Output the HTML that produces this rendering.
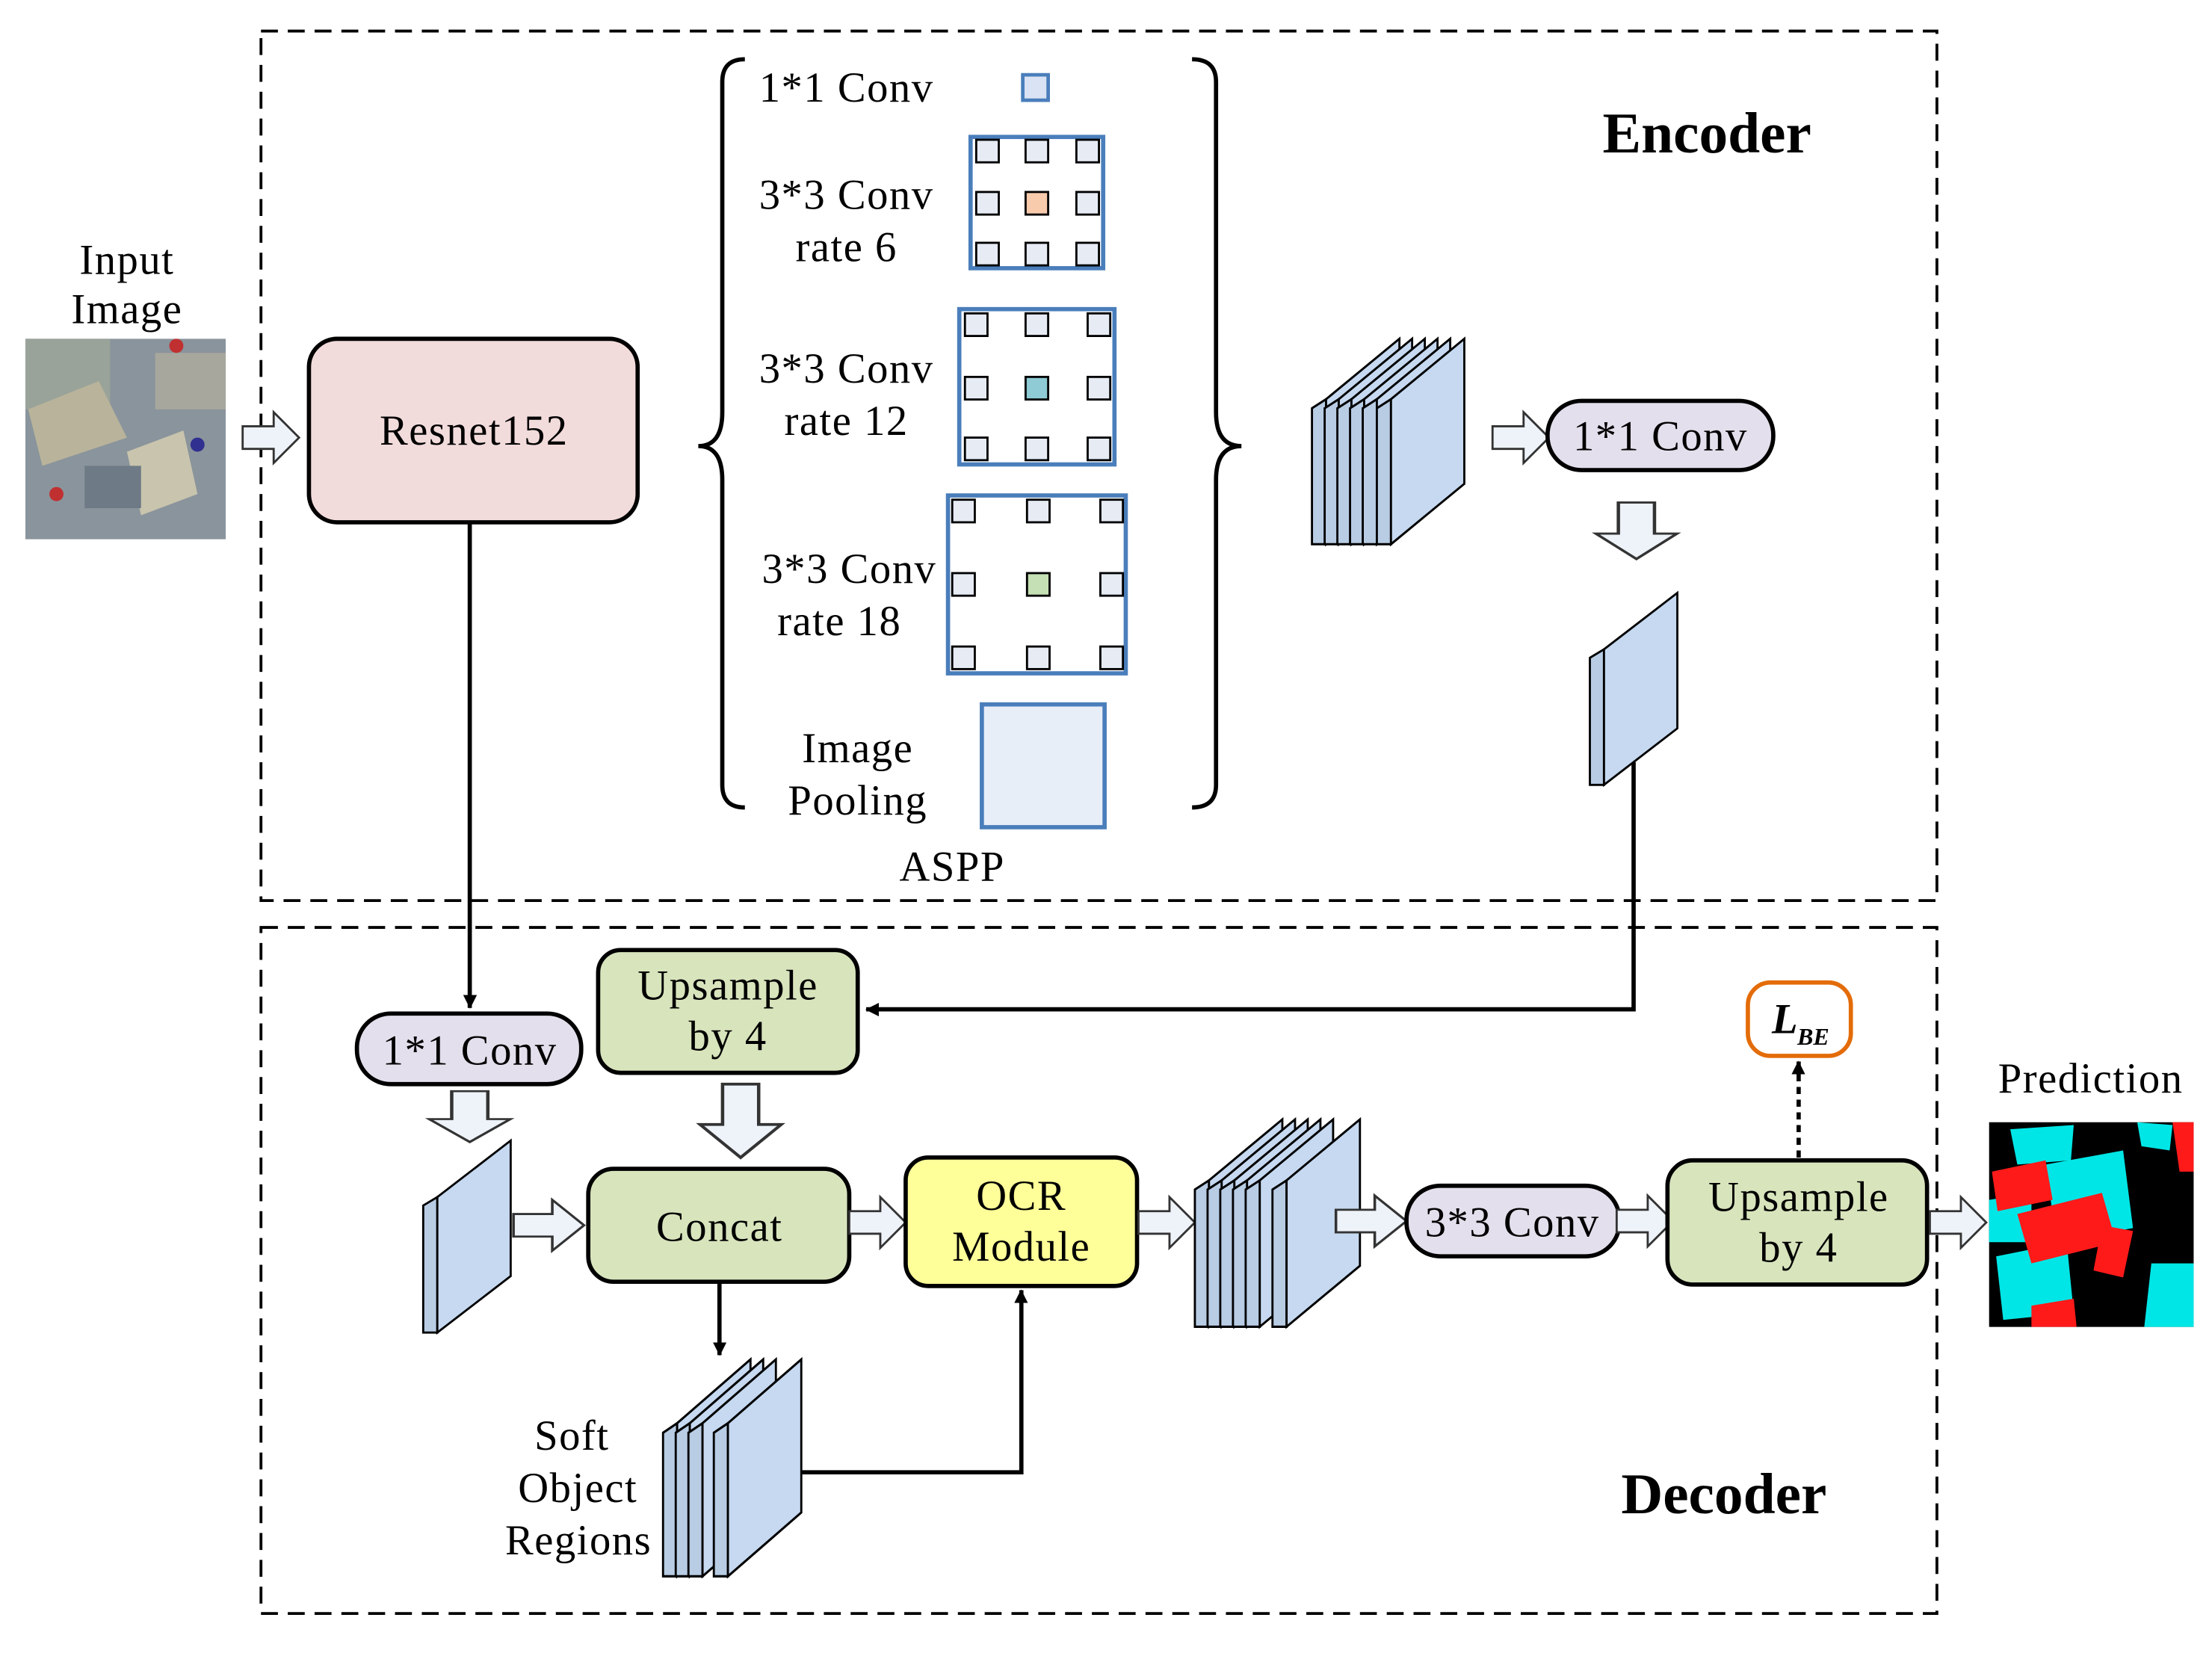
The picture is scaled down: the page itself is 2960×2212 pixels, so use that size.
<!DOCTYPE html>
<html><head><meta charset="utf-8"><style>
html,body{margin:0;padding:0;background:#fff}
svg{display:block}
text{font-family:"Liberation Serif",serif;fill:#000}
.t{font-size:30px;letter-spacing:0.8px}
</style></head><body>
<svg width="2960" height="2212" viewBox="0 0 1568 1171" preserveAspectRatio="none" xmlns="http://www.w3.org/2000/svg">
<defs>
<marker id="ah" markerWidth="10" markerHeight="10" refX="9" refY="5" orient="auto" markerUnits="userSpaceOnUse">
<path d="M0,0 L10,5 L0,10 z" fill="#000" transform="scale(1.6) translate(-4,-2)"/>
</marker>
<g id="slab"><polygon points="0,46 10,40 10,136 0,136" fill="#b8cce4" stroke="#000" stroke-width="1.5"/><polygon points="10,40 62,0 62,96 10,136" fill="#c6d9f1" stroke="#000" stroke-width="1.5"/></g>
<g id="rarr"><polygon points="0,-8 22,-8 22,-18 40,0 22,18 22,8 0,8" fill="#eef3fa" stroke="#333" stroke-width="1.5"/></g>
<g id="darr"><polygon points="-8,0 -8,22 -18,22 0,40 18,22 8,22 8,0" fill="#eef3fa" stroke="#333" stroke-width="1.5" transform="scale(1.6,1)"/></g>
<rect id="sq" x="-8" y="-8" width="16" height="16" fill="#e6ebf4" stroke="#000" stroke-width="1.5"/>
</defs>

<rect x="185" y="22" width="1188" height="616" fill="none" stroke="#000" stroke-width="2" stroke-dasharray="12,7"/>
<rect x="185" y="657" width="1188" height="486" fill="none" stroke="#000" stroke-width="2" stroke-dasharray="12,7"/>
<text x="1210" y="108" font-size="41" font-weight="bold" text-anchor="middle">Encoder</text>
<text x="1222" y="1072" font-size="41" font-weight="bold" text-anchor="middle">Decoder</text>

<g class="t">
<text x="90" y="194" text-anchor="middle">Input</text>
<text x="90" y="229" text-anchor="middle">Image</text>
</g>
<rect x="18" y="240" width="142" height="142" fill="#8a949c"/>
<rect x="18" y="240" width="60" height="50" fill="#9aa39a"/>
<polygon points="20,290 70,270 90,310 30,330" fill="#b8b39a"/>
<polygon points="90,320 130,305 140,350 100,365" fill="#c9c4ad"/>
<rect x="60" y="330" width="40" height="30" fill="#6e7a86"/>
<rect x="110" y="250" width="50" height="40" fill="#a8a79e"/>
<circle cx="40" cy="350" r="5" fill="#c03030"/><circle cx="125" cy="245" r="5" fill="#c03030"/><circle cx="140" cy="315" r="5" fill="#303090"/>
<use href="#rarr" x="172" y="310"/>

<rect x="219" y="240" width="233" height="130" rx="20" fill="#f2dcdb" stroke="#000" stroke-width="3"/>
<text class="t" x="336" y="315" text-anchor="middle">Resnet152</text>

<path d="M528,42 Q512,42 512,58 L512,292 Q512,316 495,316 Q512,316 512,340 L512,556 Q512,572 528,572" fill="none" stroke="#000" stroke-width="3"/>
<path d="M845,42 Q862,42 862,58 L862,292 Q862,316 880,316 Q862,316 862,340 L862,556 Q862,572 845,572" fill="none" stroke="#000" stroke-width="3"/>

<g class="t">
<text x="600" y="72" text-anchor="middle">1*1 Conv</text>
<text x="600" y="148" text-anchor="middle">3*3 Conv</text>
<text x="600" y="185" text-anchor="middle">rate 6</text>
<text x="600" y="271" text-anchor="middle">3*3 Conv</text>
<text x="600" y="308" text-anchor="middle">rate 12</text>
<text x="602" y="413" text-anchor="middle">3*3 Conv</text>
<text x="595" y="450" text-anchor="middle">rate 18</text>
<text x="608" y="540" text-anchor="middle">Image</text>
<text x="608" y="577" text-anchor="middle">Pooling</text>
<text x="675" y="624" text-anchor="middle">ASPP</text>
</g>
<rect x="725" y="53" width="18" height="18" fill="#dae3f3" stroke="#4a7ebb" stroke-width="2.5"/>

<rect x="688" y="97" width="94" height="93" fill="#fff" stroke="#4a7ebb" stroke-width="3"/>
<use href="#sq" x="700" y="107"/><use href="#sq" x="735" y="107"/><use href="#sq" x="771" y="107"/>
<use href="#sq" x="700" y="144"/><rect x="727" y="136" width="16" height="16" fill="#f8cbad" stroke="#000" stroke-width="1.5"/><use href="#sq" x="771" y="144"/>
<use href="#sq" x="700" y="180"/><use href="#sq" x="735" y="180"/><use href="#sq" x="771" y="180"/>

<rect x="680" y="219" width="110" height="110" fill="#fff" stroke="#4a7ebb" stroke-width="3"/>
<use href="#sq" x="692" y="230"/><use href="#sq" x="735" y="230"/><use href="#sq" x="779" y="230"/>
<use href="#sq" x="692" y="275"/><rect x="727" y="267" width="16" height="16" fill="#8ecbd4" stroke="#000" stroke-width="1.5"/><use href="#sq" x="779" y="275"/>
<use href="#sq" x="692" y="318"/><use href="#sq" x="735" y="318"/><use href="#sq" x="779" y="318"/>

<rect x="672" y="351" width="126" height="126" fill="#fff" stroke="#4a7ebb" stroke-width="3"/>
<use href="#sq" x="683" y="362"/><use href="#sq" x="736" y="362"/><use href="#sq" x="788" y="362"/>
<use href="#sq" x="683" y="414"/><rect x="728" y="406" width="16" height="16" fill="#c5e0b4" stroke="#000" stroke-width="1.5"/><use href="#sq" x="788" y="414"/>
<use href="#sq" x="683" y="466"/><use href="#sq" x="736" y="466"/><use href="#sq" x="788" y="466"/>

<rect x="696" y="499" width="87" height="87" fill="#e8eef8" stroke="#4a7ebb" stroke-width="3"/>

<g transform="translate(930,240) scale(1,1.07)">
<use href="#slab" x="0"/><use href="#slab" x="9"/><use href="#slab" x="18"/><use href="#slab" x="27"/><use href="#slab" x="36"/><use href="#slab" x="46"/>
</g>
<use href="#rarr" x="1058" y="310"/>
<rect x="1097" y="284" width="160" height="49" rx="24" fill="#e4dfec" stroke="#000" stroke-width="3"/>
<text class="t" x="1177" y="319" text-anchor="middle">1*1 Conv</text>
<g transform="translate(1160,356)"><use href="#darr"/></g>
<use href="#slab" x="1127" y="420"/>

<polyline points="1158,540 1158,715 614,715" fill="none" stroke="#000" stroke-width="3" marker-end="url(#ah)"/>
<line x1="333" y1="370" x2="333" y2="714" stroke="#000" stroke-width="3" marker-end="url(#ah)"/>

<rect x="253" y="718" width="159" height="50" rx="24" fill="#e4dfec" stroke="#000" stroke-width="3"/>
<text class="t" x="333" y="754" text-anchor="middle">1*1 Conv</text>
<rect x="424" y="673" width="184" height="87" rx="16" fill="#d8e4bc" stroke="#000" stroke-width="3"/>
<text class="t" x="516" y="708" text-anchor="middle">Upsample</text>
<text class="t" x="516" y="744" text-anchor="middle">by 4</text>
<g transform="translate(333,773)"><use href="#darr" transform="scale(1,0.9)"/></g>
<g transform="translate(525,768)"><use href="#darr" transform="scale(1,1.3)"/></g>
<use href="#slab" x="300" y="808"/>
<g transform="translate(364,868) scale(1.25,1)"><use href="#rarr"/></g>
<rect x="417" y="828" width="185" height="80" rx="18" fill="#d8e4bc" stroke="#000" stroke-width="3"/>
<text class="t" x="510" y="879" text-anchor="middle">Concat</text>
<use href="#rarr" x="602" y="866"/>
<rect x="642" y="820" width="164" height="91" rx="16" fill="#ffff99" stroke="#000" stroke-width="3"/>
<text class="t" x="724" y="857" text-anchor="middle">OCR</text>
<text class="t" x="724" y="893" text-anchor="middle">Module</text>
<use href="#rarr" x="807" y="866"/>
<g transform="translate(847,793) scale(1,1.08)">
<use href="#slab" x="0"/><use href="#slab" x="9"/><use href="#slab" x="18"/><use href="#slab" x="27"/><use href="#slab" x="36"/><use href="#slab" x="55"/>
</g>
<g transform="translate(947,865) scale(1.25,1)"><use href="#rarr"/></g>
<rect x="997" y="840" width="151" height="50" rx="24" fill="#e4dfec" stroke="#000" stroke-width="3"/>
<text class="t" x="1072" y="876" text-anchor="middle">3*3 Conv</text>
<use href="#rarr" x="1146" y="865"/>
<rect x="1182" y="822" width="184" height="88" rx="18" fill="#d8e4bc" stroke="#000" stroke-width="3"/>
<text class="t" x="1275" y="858" text-anchor="middle">Upsample</text>
<text class="t" x="1275" y="894" text-anchor="middle">by 4</text>
<use href="#rarr" x="1368" y="866"/>
<rect x="1239" y="696" width="73" height="52" rx="16" fill="#fff" stroke="#e36c09" stroke-width="3"/>
<text x="1256" y="732" font-size="30" font-weight="bold" font-style="italic">L</text>
<text x="1274" y="740" font-size="17" font-weight="bold" font-style="italic">BE</text>
<line x1="1275" y1="820" x2="1275" y2="752" stroke="#000" stroke-width="3" stroke-dasharray="5,4" marker-end="url(#ah)"/>

<line x1="510" y1="908" x2="510" y2="960" stroke="#000" stroke-width="3" marker-end="url(#ah)"/>
<g transform="translate(470,963) scale(1,1.13)">
<use href="#slab" x="0"/><use href="#slab" x="9"/><use href="#slab" x="18"/><use href="#slab" x="36"/>
</g>
<polyline points="568,1043 724,1043 724,914" fill="none" stroke="#000" stroke-width="3" marker-end="url(#ah)"/>
<g class="t">
<text x="432" y="1027" text-anchor="end">Soft</text>
<text x="452" y="1064" text-anchor="end">Object</text>
<text x="462" y="1101" text-anchor="end">Regions</text>
<text x="1482" y="774" text-anchor="middle">Prediction</text>
</g>

<rect x="1410" y="795" width="145" height="145" fill="#000"/>
<polygon points="1425,800 1470,797 1468,822 1430,825" fill="#00e6e6"/>
<polygon points="1515,795 1540,797 1538,815 1518,812" fill="#00e6e6"/>
<polygon points="1450,825 1505,815 1512,870 1458,880" fill="#00e6e6"/>
<polygon points="1410,850 1440,845 1440,880 1410,880" fill="#00e6e6"/>
<polygon points="1415,890 1465,880 1470,930 1420,935" fill="#00e6e6"/>
<polygon points="1525,895 1555,895 1555,940 1520,940" fill="#00e6e6"/>
<polygon points="1540,795 1555,795 1555,830 1545,830" fill="#ff1a1a"/>
<polygon points="1412,830 1450,822 1455,850 1416,858" fill="#ff1a1a"/>
<polygon points="1430,860 1490,845 1500,880 1440,895" fill="#ff1a1a"/>
<polygon points="1490,868 1512,872 1505,905 1484,900" fill="#ff1a1a"/>
<polygon points="1440,925 1470,920 1472,940 1440,940" fill="#ff1a1a"/>
</svg>
</body></html>
